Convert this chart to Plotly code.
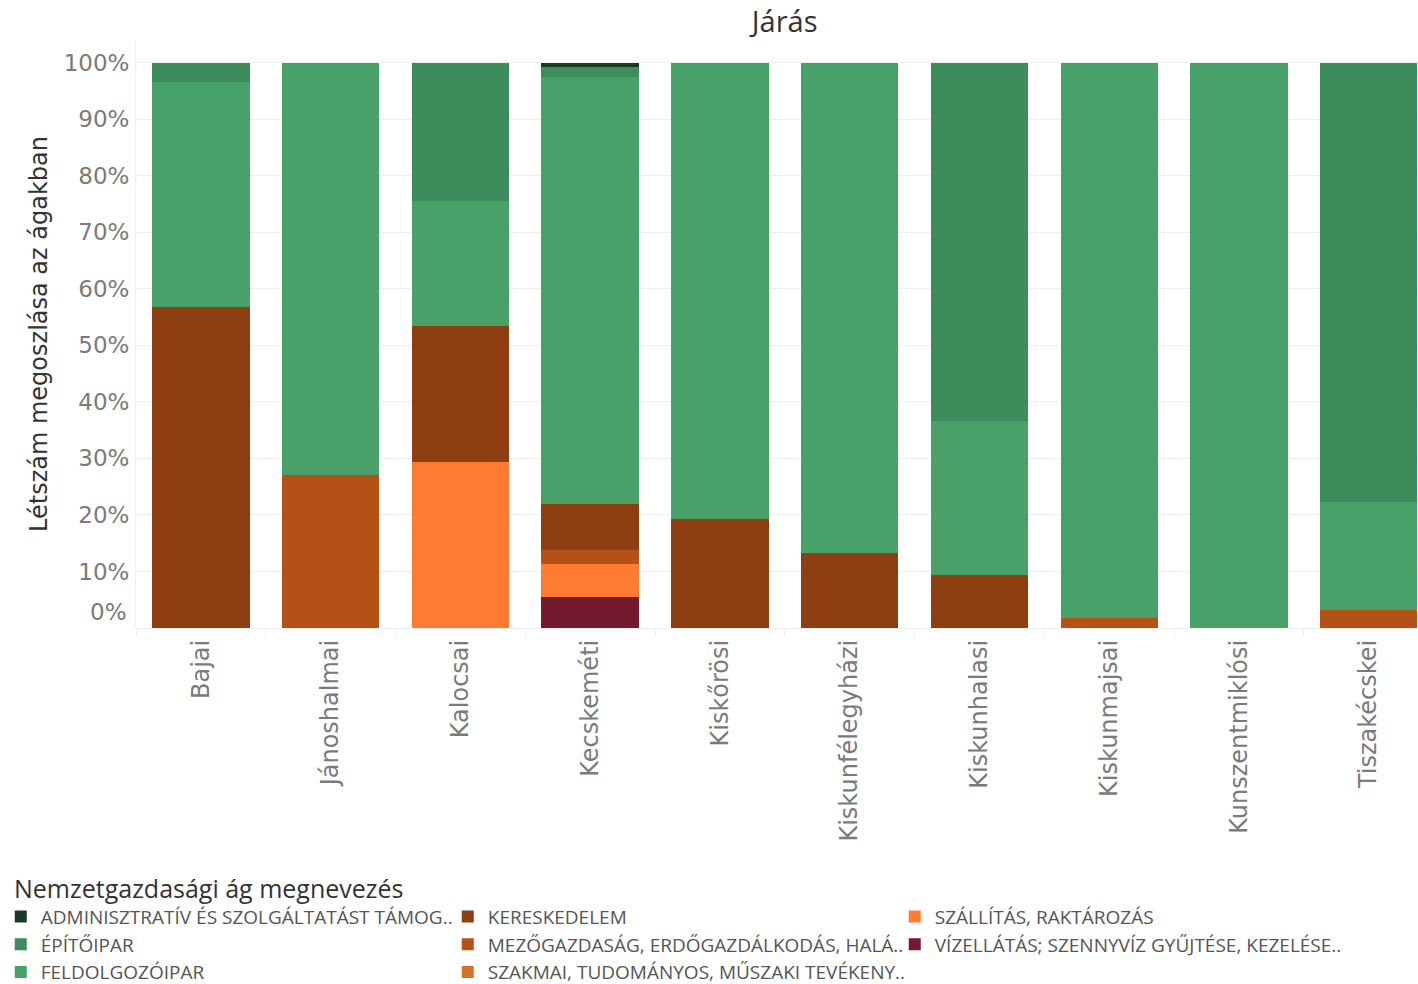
import plotly.graph_objects as go

jarasok = ["Bajai", "Jánoshalmai", "Kalocsai", "Kecskeméti", "Kiskőrösi",
           "Kiskunfélegyházi", "Kiskunhalasi", "Kiskunmajsai", "Kunszentmiklósi", "Tiszakécskei"]

admin = [0, 0, 0, 0.007, 0, 0, 0, 0, 0, 0]
epitoipar = [0.035, 0, 0.244, 0.019, 0, 0, 0.634, 0, 0, 0.778]
feldolgozoipar = [0.397, 0.729, 0.222, 0.755, 0.808, 0.867, 0.272, 0.982, 1.0, 0.190]
kereskedelem = [0.568, 0, 0.240, 0.081, 0.192, 0.133, 0.094, 0, 0, 0]
mezogazdasag = [0, 0.271, 0, 0.024, 0, 0, 0, 0.018, 0, 0.032]
szakmai = [0, 0, 0, 0, 0, 0, 0, 0, 0, 0]
szallitas = [0, 0, 0.294, 0.059, 0, 0, 0, 0, 0, 0]
vizellatas = [0, 0, 0, 0.055, 0, 0, 0, 0, 0, 0]

y_ticks = [0.1, 0.2, 0.3, 0.4, 0.5, 0.6, 0.7, 0.8, 0.9, 1.0]
y_ticklabels = ["10%", "20%", "30%", "40%", "50%", "60%", "70%", "80%", "90%", "100%"]

# (name, values, color, legend rank) listed bottom-to-top of the stack
series = [
    ("VÍZELLÁTÁS; SZENNYVÍZ GYŰJTÉSE, KEZELÉSE..", vizellatas, "#731930", 6),
    ("SZÁLLÍTÁS, RAKTÁROZÁS", szallitas, "#ff7b31", 3),
    ("SZAKMAI, TUDOMÁNYOS, MŰSZAKI TEVÉKENY..", szakmai, "#d6702f", 8),
    ("MEZŐGAZDASÁG, ERDŐGAZDÁLKODÁS, HALÁ..", mezogazdasag, "#b45117", 5),
    ("KERESKEDELEM", kereskedelem, "#8d3f11", 2),
    ("FELDOLGOZÓIPAR", feldolgozoipar, "#48a169", 7),
    ("ÉPÍTŐIPAR", epitoipar, "#3d8c5c", 4),
    ("ADMINISZTRATÍV ÉS SZOLGÁLTATÁST TÁMOG..", admin, "#1a3a23", 1),
]

fig = go.Figure()
for name, vals, color, rank in series:
    fig.add_trace(go.Bar(x=jarasok, y=vals, name=name, marker_color=color,
                         marker_line_width=0, legendrank=rank, width=0.75))

fig.update_layout(
    barmode="stack",
    width=1418, height=984,
    paper_bgcolor="white", plot_bgcolor="white",
    margin=dict(l=136, r=0, t=40, b=356, autoexpand=False),
    font=dict(family="Open Sans", color="#333"),
    title=dict(text="Járás", x=0.506, xref="paper", xanchor="center",
               y=0.978, yanchor="middle",
               font=dict(size=29, color="#333")),
    xaxis=dict(range=[-0.5, 9.38], tickangle=-90, showgrid=False,
               tickfont=dict(family="DejaVu Sans", size=24, color="#7a7a7a"),
               ticks="outside", tickson="boundaries", ticklen=8, tickcolor="#eeeeee",
               ticklabelstandoff=6, showline=False, automargin=False, fixedrange=True),
    yaxis=dict(range=[0, 1.04], tickvals=y_ticks, ticktext=y_ticklabels,
               gridcolor="#efefef", gridwidth=1, zeroline=True, zerolinecolor="#efefef",
               zerolinewidth=1,
               tickfont=dict(family="DejaVu Sans", size=23, color="#7a7a7a"),
               ticks="", ticklabelstandoff=1,
               title=dict(text="Létszám megoszlása az ágakban",
                          font=dict(family="DejaVu Sans", size=24, color="#333"),
                          standoff=9),
               showline=True, linecolor="#efefef", automargin=False, fixedrange=True),
    legend=dict(orientation="h", x=-0.1055, xanchor="left", y=-0.4586, yanchor="top",
                entrywidth=402, entrywidthmode="pixels",
                font=dict(size=19, color="#555"), itemwidth=30,
                traceorder="normal"),
    showlegend=True,
)

fig.add_annotation(x=0, xref="paper", y=0, yref="y", text="0%", showarrow=False,
                   xanchor="right", xshift=-7, yshift=16,
                   font=dict(family="DejaVu Sans", size=23, color="#7a7a7a"))
fig.add_annotation(x=-0.0967, xref="paper", y=-0.442, yref="paper",
                   text="Nemzetgazdasági ág megnevezés", showarrow=False,
                   xanchor="left", yanchor="middle",
                   font=dict(size=25, color="#333"))

fig.write_html("out.html", config={"displayModeBar": False},
               post_script="document.body.style.margin='0';document.body.style.overflow='hidden';")
